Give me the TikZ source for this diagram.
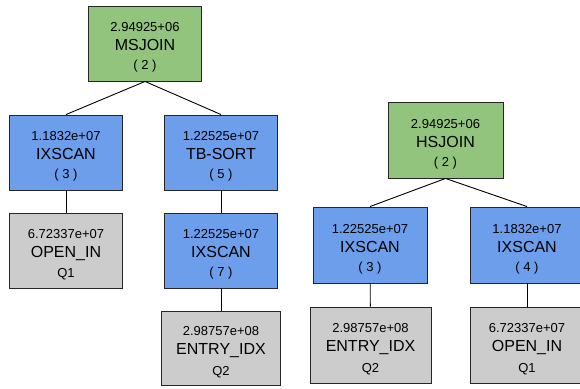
\documentclass[tikz,border=0pt]{standalone}
\usepackage{fontspec}
\setmainfont{Liberation Sans}
\tikzset{
  op/.style={draw=black!85, line width=0.9pt, align=center, minimum width=113pt,
    minimum height=75pt, inner sep=0pt, font=\fontsize{13}{19}\selectfont},
  joinop/.style={op, fill={rgb,255:red,147;green,196;blue,125}},
  scanop/.style={op, fill={rgb,255:red,109;green,158;blue,235}},
  tblop/.style={op, fill={rgb,255:red,204;green,204;blue,204}},
}
% three fixed-pitch lines: cost, operator, id
\newcommand{\oprow}{\rule[-1.75pt]{0pt}{19pt}}
\newcommand{\oplabel}[3]{{\def\arraystretch{0}%
  \begin{tabular}{@{}c@{}}\oprow#1\\\oprow{\fontsize{16}{19}\selectfont #2}\\\oprow#3\end{tabular}}}
\begin{document}
\begin{tikzpicture}[x=1pt,y=-1pt]
  \useasboundingbox (0,0) rectangle (580,388);
  % left plan
  \draw
    (145,43.5) node[joinop] (ms){\oplabel{2.94925+06}{MSJOIN}{( 2 )}}
    (66,152.5) node[scanop] (ix3){\oplabel{1.1832e+07}{IXSCAN}{( 3 )}}
    (221,152.5) node[scanop] (sort5){\oplabel{1.22525e+07}{TB-SORT}{( 5 )}}
    (66,250.5) node[tblop] (open1){\oplabel{6.72337e+07}{OPEN\_IN}{Q1}}
    (221,250.5) node[scanop] (ix7){\oplabel{1.22525e+07}{IXSCAN}{( 7 )}}
    (221,348) node[tblop, minimum width=119pt, minimum height=74pt] (entry2){\oplabel{2.98757e+08}{ENTRY\_IDX}{Q2}};
  % right plan
  \draw
    (445.5,140) node[joinop, minimum width=115pt, minimum height=76pt] (hs){\oplabel{2.94925+06}{HSJOIN}{( 2 )}}
    (370,245) node[scanop, minimum width=114pt, minimum height=76pt] (ix3b){\oplabel{1.22525e+07}{IXSCAN}{( 3 )}}
    (527,245) node[scanop, minimum width=114pt, minimum height=76pt] (ix4){\oplabel{1.1832e+07}{IXSCAN}{( 4 )}}
    (370.5,345) node[tblop, minimum width=121pt, minimum height=76pt] (entry2b){\oplabel{2.98757e+08}{ENTRY\_IDX}{Q2}}
    (527,345) node[tblop, minimum width=114pt, minimum height=76pt] (open1b){\oplabel{6.72337e+07}{OPEN\_IN}{Q1}};
  \begin{scope}[line width=0.9pt]
    \draw (ms.south) to (ix3.north);
    \draw (ms.south) to (sort5.north);
    \draw (ix3) to (open1);
    \draw (sort5) to (ix7);
    \draw (ix7) to (entry2);
    \draw (hs.south) to (ix3b.north);
    \draw (hs.south) to (ix4.north);
    \draw (ix3b) to (entry2b);
    \draw (ix4) to (open1b);
  \end{scope}
\end{tikzpicture}
\end{document}
